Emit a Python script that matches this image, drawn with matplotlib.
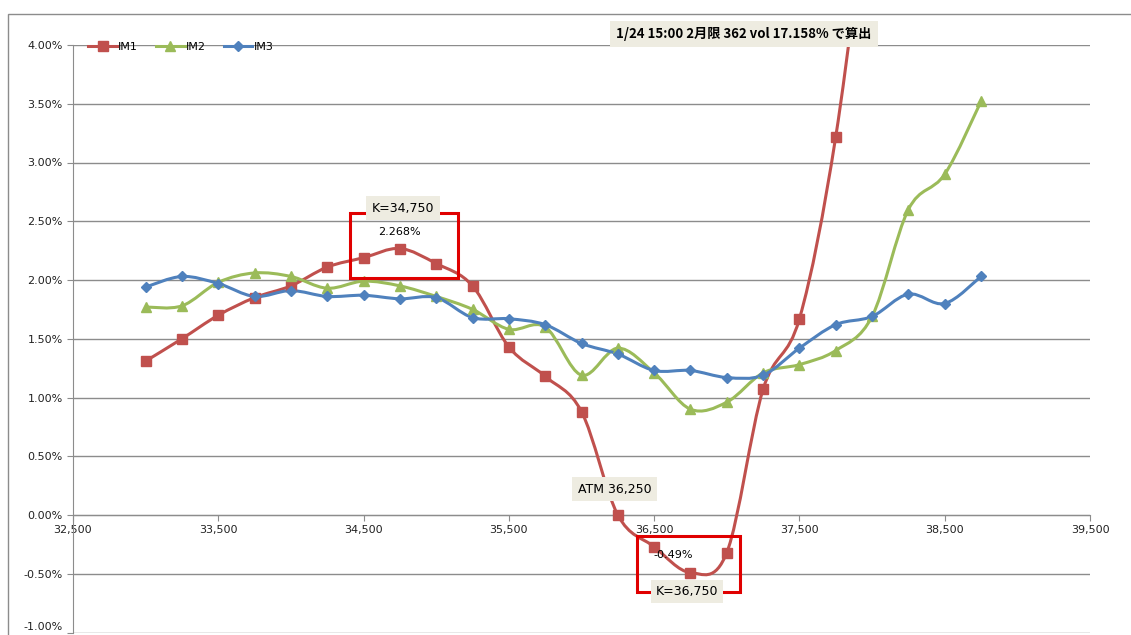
import numpy as np
import matplotlib.pyplot as plt
from matplotlib.path import Path
from matplotlib.patches import PathPatch, Rectangle
from matplotlib.lines import Line2D

strikes = [33000, 33250, 33500, 33750, 34000, 34250, 34500, 34750, 35000, 35250,
           35500, 35750, 36000, 36250, 36500, 36750, 37000, 37250, 37500, 37750,
           38000, 38250, 38500, 38750]

# IM1 runs off the top of the chart after 37,750
im1 = [1.31, 1.50, 1.70, 1.85, 1.95, 2.11, 2.19, 2.268, 2.14, 1.95,
       1.43, 1.18, 0.88, 0.00, -0.27, -0.49, -0.32, 1.07, 1.67, 3.22,
       5.60]
im2 = [1.77, 1.78, 1.98, 2.06, 2.03, 1.93, 1.99, 1.95, 1.86, 1.75,
       1.58, 1.60, 1.19, 1.42, 1.21, 0.90, 0.96, 1.21, 1.28, 1.40,
       1.69, 2.60, 2.90, 3.52]
im3 = [1.94, 2.03, 1.97, 1.86, 1.91, 1.86, 1.87, 1.84, 1.85, 1.68,
       1.67, 1.62, 1.46, 1.37, 1.23, 1.23, 1.17, 1.19, 1.42, 1.62,
       1.69, 1.88, 1.80, 2.03]

peak_k = 34750
trough_k = 36750
atm_k = 36250

RED = "#C0504D"
GREEN = "#9BBB59"
BLUE = "#4F81BD"
BOXC = "#EEECE1"
FRAME = "#E00000"

plt.rcParams["font.family"] = ["Liberation Sans Narrow", "DejaVu Sans"]


def smooth_path(xs, ys):
    # Excel style smoothed line: cubic bezier, control points from neighbours / 6
    pts = np.column_stack([xs, ys]).astype(float)
    n = len(pts)
    verts = [pts[0]]
    codes = [Path.MOVETO]
    for i in range(n - 1):
        p0 = pts[i - 1] if i > 0 else pts[i]
        p1 = pts[i]
        p2 = pts[i + 1]
        p3 = pts[i + 2] if i + 2 < n else pts[i + 1]
        c1 = p1 + (p2 - p0) / 6.0
        c2 = p2 - (p3 - p1) / 6.0
        verts += [c1, c2, p2]
        codes += [Path.CURVE4] * 3
    return Path(verts, codes)


fig = plt.figure(figsize=(11.31, 6.35), dpi=100)
fig.patches.append(Rectangle((8 / 1131, -0.1), 1.2, (635 - 14) / 635 + 0.1,
                             transform=fig.transFigure, fill=False,
                             edgecolor="#8C8C8C", linewidth=1.0))

ax = fig.add_axes([73 / 1131, 2.5 / 635, 1017 / 1131, 587.5 / 635])
ax.set_xlim(32500, 39500)
ax.set_ylim(-1.0, 4.0)

series = [
    ("IM1", im1, RED, "s", 6.5),
    ("IM2", im2, GREEN, "^", 7),
    ("IM3", im3, BLUE, "D", 5),
]
handles = []
for name, vals, col, mk, ms in series:
    xs = strikes[:len(vals)]
    ax.add_patch(PathPatch(smooth_path(xs, vals), facecolor="none",
                           edgecolor=col, linewidth=2.2, zorder=3))
    ax.plot(xs, vals, linestyle="none", marker=mk, markersize=ms,
            color=col, zorder=4)
    handles.append(Line2D([], [], color=col, linewidth=2.2, marker=mk,
                          markersize=ms))

ax.legend(handles, [s[0] for s in series], loc="upper left", ncol=3,
          frameon=False, handlelength=2.6, handletextpad=0.1,
          columnspacing=1.6, bbox_to_anchor=(0.005, 1.022),
          prop={"family": ["DejaVu Sans"], "size": 8})

ax.set_yticks(np.arange(-1.0, 4.01, 0.5))
ax.yaxis.set_major_formatter(plt.FuncFormatter(lambda v, p: f"{v:.2f}%"))
ax.set_xticks(range(32500, 39501, 1000))
ax.xaxis.set_major_formatter(plt.FuncFormatter(lambda v, p: f"{int(v):,}"))
ax.grid(axis="y", color="#8C8C8C", linewidth=1.0)
ax.set_axisbelow(True)
for s in ["top", "right"]:
    ax.spines[s].set_visible(False)
ax.spines["bottom"].set_position(("data", 0))
ax.spines["bottom"].set_color("#8C8C8C")
ax.spines["left"].set_color("#8C8C8C")
ax.tick_params(axis="both", labelsize=8, color="#8C8C8C", length=4,
               labelcolor="#222222")
ax.tick_params(axis="x", pad=3)
# lowest label sits at the bottom edge, keep it inside the figure
ax.get_yticklabels()[0].set_verticalalignment("bottom")

# title box above the plot area
ax.text(37118, 4.094, "1/24 15:00 2月限 362 vol 17.158% で算出",
        ha="center", va="center", fontsize=9.5, fontweight="bold",
        family=["Noto Sans CJK JP", "DejaVu Sans"], clip_on=False, zorder=6,
        bbox=dict(boxstyle="square,pad=0.45", facecolor=BOXC, edgecolor="none"))

# peak frame
peak = im1[strikes.index(peak_k)]
ax.add_patch(Rectangle((34406, 2.017), 744, 0.553, fill=False,
                       edgecolor=FRAME, linewidth=2.2, zorder=5))
ax.text(34771, 2.61, f"K={peak_k:,}", ha="center", va="center", fontsize=9,
        family=["DejaVu Sans"], zorder=6,
        bbox=dict(boxstyle="square,pad=0.45", facecolor=BOXC, edgecolor="none"))
ax.text(peak_k, 2.41, f"{peak:.3f}%", ha="center", va="center", fontsize=8,
        family=["DejaVu Sans"], zorder=6)

# ATM label
ax.text(36230, 0.22, f"ATM {atm_k:,}", ha="center", va="center", fontsize=9,
        family=["DejaVu Sans"], zorder=6,
        bbox=dict(boxstyle="square,pad=0.45", facecolor=BOXC, edgecolor="none"))

# trough frame
trough = im1[strikes.index(trough_k)]
ax.add_patch(Rectangle((36382, -0.655), 709, 0.475, fill=False,
                       edgecolor=FRAME, linewidth=2.2, zorder=5, clip_on=False))
ax.text(36630, -0.34, f"{trough:.2f}%", ha="center", va="center", fontsize=8,
        family=["DejaVu Sans"], zorder=6)
ax.text(36726, -0.647, f"K={trough_k:,}", ha="center", va="center",
        fontsize=9, family=["DejaVu Sans"], zorder=6,
        bbox=dict(boxstyle="square,pad=0.4", facecolor=BOXC, edgecolor="none"))

fig.savefig("out.png", dpi=100)
